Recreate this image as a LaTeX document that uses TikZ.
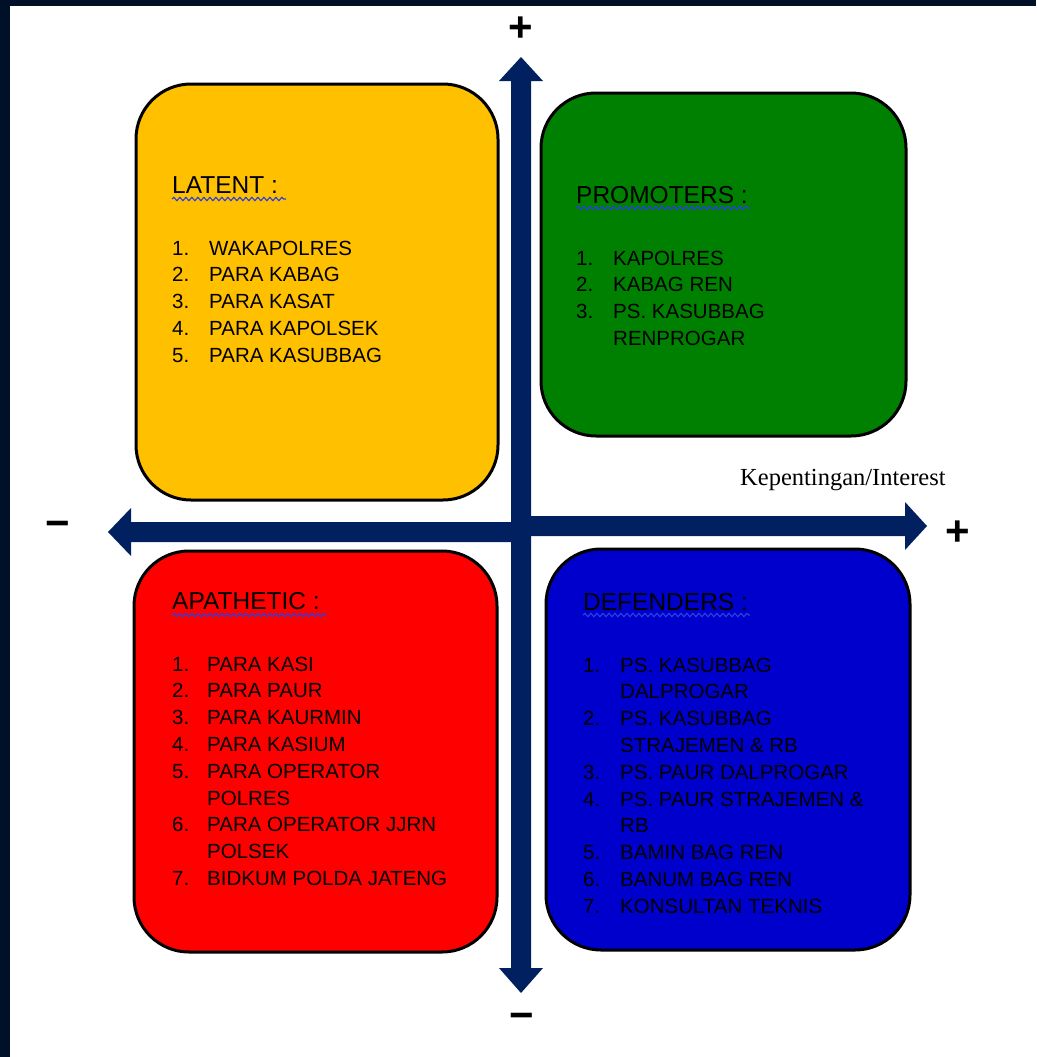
\documentclass[tikz,border=0pt]{standalone}
\usepackage{fontspec}
\newfontfamily\arialf{Liberation Sans}
\newfontfamily\timesf{Liberation Serif}
\usetikzlibrary{decorations.pathmorphing}
\definecolor{frame}{HTML}{001028}
\definecolor{axisblue}{HTML}{002060}
\definecolor{cyellow}{HTML}{FFC000}
\definecolor{cgreen}{HTML}{008000}
\definecolor{cred}{HTML}{FF0000}
\definecolor{cblue}{HTML}{0000CC}
\definecolor{squig}{HTML}{2A3FE0}
\begin{document}
\begin{tikzpicture}[x=1pt,y=-1pt,
  quad/.style={draw=black, line width=3pt, rounded corners=55pt, inner sep=0pt},
  head/.style={anchor=base west, inner sep=0pt, font=\fontsize{24.5}{28}\arialf},
  itm/.style={anchor=base west, inner sep=0pt, font=\fontsize{20.5}{24}\arialf},
  sign/.style={inner sep=0pt, font=\fontsize{42}{42}\arialf\bfseries},
  wavy/.style={draw=squig, line width=1.2pt, decorate, decoration={snake, amplitude=1.6pt, segment length=6pt}}]
\useasboundingbox (0,0) rectangle (1036,1057);
\fill[frame] (0,0) rectangle (1036,1057);
\fill[white] (10,6) rectangle (1036,1057);

% quadrant boxes
\node[quad, fill=cyellow, minimum width=362pt, minimum height=416pt] (latent) at (317,292) {};
\node[quad, fill=cgreen, minimum width=365pt, minimum height=343pt] (promoters) at (723.5,264.5) {};
\node[quad, fill=cred, minimum width=363pt, minimum height=401pt] (apathetic) at (315.5,751.5) {};
\node[quad, fill=cblue, minimum width=364pt, minimum height=401pt] (defenders) at (728,749.5) {};

% axes
\coordinate (vtop) at (521,57);
\coordinate (vbot) at (521,993);
\fill[axisblue] (vtop) -- (543,81) -- (531,81) -- (531,968) -- (543,968) -- (vbot) -- (499,968) -- (511,968) -- (511,81) -- (499,81) -- cycle;
\coordinate (hleft) at (108,532);
\fill[axisblue] (hleft) -- (131,508) -- (131,522) -- (522,522) -- (522,542) -- (131,542) -- (131,556) -- cycle;
\coordinate (hright) at (927,526);
\fill[axisblue] (hright) -- (905,502) -- (905,516) -- (525,516) -- (525,536) -- (905,536) -- (905,550) -- cycle;

% signs
\node[sign] (plustop) at (521,29) {+};
\node[sign] (plusright) at (958,533) {+};
\node[sign] (minusleft) at (58,529) {−};
\node[sign] (minusbottom) at (522,1021) {−};

\node[anchor=base west, inner sep=0pt, font=\fontsize{24.5}{28}\timesf] (interest) at (740,485) {Kepentingan/Interest};

% LATENT
\node[head] (latent-h) at (172,193) {LATENT :};
\draw[wavy] (172,199) -- (286,199);
\foreach \n/\t [count=\i from 0] in {1./WAKAPOLRES, 2./PARA KABAG, 3./PARA KASAT, 4./PARA KAPOLSEK, 5./PARA KASUBBAG} {
  \node[itm] (lat-n\i) at (172,255+26.8*\i) {\n};
  \node[itm] (lat-t\i) at (209,255+26.8*\i) {\t};
}

% PROMOTERS
\node[head] (prom-h) at (576,203) {PROMOTERS :};
\draw[wavy] (576,208) -- (750,208);
\foreach \n/\t [count=\i from 0] in {1./KAPOLRES, 2./KABAG REN, 3./PS. KASUBBAG, /RENPROGAR} {
  \node[itm] (pro-n\i) at (576,265+26.8*\i) {\n};
  \node[itm] (pro-t\i) at (613,265+26.8*\i) {\t};
}

% APATHETIC
\node[head] (apa-h) at (172,609) {APATHETIC :};
\draw[wavy] (172,615) -- (326,615);
\foreach \n/\t [count=\i from 0] in {1./PARA KASI, 2./PARA PAUR, 3./PARA KAURMIN, 4./PARA KASIUM, 5./PARA OPERATOR, /POLRES, 6./PARA OPERATOR JJRN, /POLSEK, 7./BIDKUM POLDA JATENG} {
  \node[itm] (apa-n\i) at (172,671+26.8*\i) {\n};
  \node[itm] (apa-t\i) at (207,671+26.8*\i) {\t};
}

% DEFENDERS
\node[head] (def-h) at (583,610) {DEFENDERS :};
\draw[wavy] (583,615) -- (750,615);
\foreach \n/\t [count=\i from 0] in {1./PS. KASUBBAG, /DALPROGAR, 2./PS. KASUBBAG, /STRAJEMEN \& RB, 3./PS. PAUR DALPROGAR, 4./PS. PAUR STRAJEMEN \&, /RB, 5./BAMIN BAG REN, 6./BANUM BAG REN, 7./KONSULTAN TEKNIS} {
  \node[itm] (def-n\i) at (583,672+26.8*\i) {\n};
  \node[itm] (def-t\i) at (620,672+26.8*\i) {\t};
}
\end{tikzpicture}
\end{document}
